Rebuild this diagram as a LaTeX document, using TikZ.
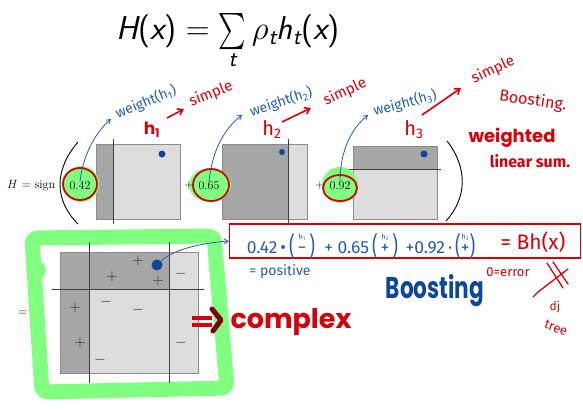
\RequirePackage{fix-cm}
\documentclass[tikz,border=0pt]{standalone}
\usepackage{fontspec}
\usepackage{amsmath}
\usetikzlibrary{arrows.meta}
\newfontfamily\hand{Fira Sans}
\newfontfamily\pop{Poppins}
\definecolor{hblue}{RGB}{35,95,170}
\definecolor{dblue}{RGB}{12,72,150}
\definecolor{hred}{RGB}{212,0,10}
\definecolor{dred}{RGB}{120,0,0}
\definecolor{hgreen}{RGB}{128,255,128}
\definecolor{dgray}{RGB}{166,166,166}
\definecolor{lgray}{RGB}{221,221,221}
\definecolor{bgray}{RGB}{140,140,140}
\newcommand\fsi[1]{\text{\sffamily\itshape #1}}
\newcommand\fsu[1]{\text{\sffamily #1}}
\newcommand\bigsum{\mathop{\vcenter{\hbox{\scalebox{1.05}[1.45]{$\sum$}}}}\limits}
\newcommand\hsgn[2]{\ooalign{\hidewidth\raisebox{14pt}{\fontsize{7.5}{8}\selectfont h\textsubscript{#1}}\hidewidth\cr #2\cr}}
\newcommand\bpl{\raisebox{-2pt}{\scalebox{1}[1.5]{(}}}
\newcommand\bpr{\raisebox{-2pt}{\scalebox{1}[1.5]{)}}}
\begin{document}
\begin{tikzpicture}[x=1pt,y=-1pt,
  hw/.style={text=hblue, inner sep=0pt},
  rw/.style={text=hred, inner sep=0pt},
  harrow/.style={draw=hblue, line width=0.8, -{Straight Barb[length=4pt,width=5pt]}},
  rarrow/.style={draw=hred, line width=1.6, -{Straight Barb[length=5pt,width=7pt]}},
  num/.style={font=\fontsize{12}{14}\selectfont, inner sep=0pt},
  blob/.style={fill=hgreen},
  ring/.style={draw=hred, line width=1.8},
  sep/.style={draw=black!75, line width=0.8},
  cellbox/.style={draw=bgray, line width=0.6},
  bdot/.style={circle, fill=dblue, inner sep=0pt},
  pmsign/.style={font=\fontsize{15}{16}\selectfont, inner sep=0pt, text=black!85},
]
\useasboundingbox[fill=white] (0,0) rectangle (583,410);

% title formula
\node[inner sep=0pt] (formula) at (228,41) {\fontsize{33}{38}\selectfont $\fsi{H}\fsu{(}\fsi{x}\fsu{)} = \bigsum_{\fsi{t}} \rho_{\fsi{t}}\fsi{h}_{\fsi{t}}\fsu{(}\fsi{x}\fsu{)}$};

% H = sign ( ... )
\node[num, anchor=west] (hsign) at (7,186) {$H$ = sign};
\draw[line width=0.9] (78,142) .. controls (54,170) and (54,200) .. (78,224);
\draw[line width=0.9] (447,141) .. controls (468,168) and (467,198) .. (446,221);

% box 1
\fill[lgray] (96,144) rectangle (180,219);
\fill[dgray] (96,144) rectangle (113,219);
\draw[cellbox] (96,144) rectangle (180,219);
\draw[sep] (113,139) -- (113,224);
\node[bdot, minimum size=7pt] (d1) at (162,154) {};
% box 2
\fill[lgray] (222,144) rectangle (307,219);
\fill[dgray] (222,144) rectangle (288,219);
\draw[cellbox] (222,144) rectangle (307,219);
\draw[sep] (288,139) -- (288,224);
\node[bdot, minimum size=6pt] (d2) at (282,152) {};
% box 3
\fill[lgray] (353,146) rectangle (437,219);
\fill[dgray] (353,146) rectangle (437,169);
\draw[cellbox] (353,146) rectangle (437,219);
\draw[sep] (347,169) -- (441,169);
\node[bdot, minimum size=7pt] (d3) at (424,154) {};

% weights
\fill[blob] (81,184) ellipse [x radius=18, y radius=18];
\node[num] (n1) at (80,186) {0.42};
\draw[ring] (80,184) ellipse [x radius=17, y radius=16];
\fill[blob] (210,185) ellipse [x radius=21, y radius=17];
\node[num] (p2) at (189,186) {+};
\node[num] (n2) at (209,186) {0.65};
\draw[ring] (211,185) ellipse [x radius=18, y radius=16];
\fill[blob] (340,185) ellipse [x radius=18, y radius=18];
\node[num] (p3) at (320,186) {+};
\node[num] (n3) at (340,186) {0.92};
\draw[ring] (340,188) ellipse [x radius=17, y radius=13];

% blue weight annotations
\node[hw, rotate=22, font=\hand\fontsize{14}{16}\selectfont] (w1) at (146,102) {weight(h\textsubscript{1})};
\node[hw, rotate=18, font=\hand\fontsize{14}{16}\selectfont] (w2) at (281,102) {weight(h\textsubscript{2})};
\node[hw, rotate=15, font=\hand\fontsize{14}{16}\selectfont] (w3) at (405,103) {weight(h\textsubscript{3})};
\coordinate (t1) at (111,119);
\coordinate (t2) at (242,115);
\coordinate (t3) at (368,115);
\draw[harrow] (n1.north) .. controls (83,155) and (95,133) .. (t1);
\draw[harrow] (n2.north) .. controls (212,150) and (225,128) .. (t2);
\draw[harrow] (n3.north) .. controls (340,150) and (352,128) .. (t3);

% red annotations
\node[rw, font=\pop\bfseries\fontsize{17}{18}\selectfont] (h1) at (152,130) {h\textsubscript{1}};
\node[rw, font=\hand\fontsize{20}{22}\selectfont] (h2) at (272,130) {h\textsubscript{2}};
\node[rw, font=\hand\fontsize{20}{22}\selectfont] (h3) at (414,130) {h\textsubscript{3}};
\node[rw, rotate=22, font=\hand\fontsize{15}{16}\selectfont] (s1) at (211,94) {simple};
\node[rw, rotate=25, font=\hand\fontsize{15}{16}\selectfont] (s2) at (345,92) {simple};
\node[rw, rotate=25, font=\hand\fontsize{15}{16}\selectfont] (s3) at (493,70) {simple};
\coordinate (r1a) at (167,118); \coordinate (r1b) at (184,109);
\coordinate (r2a) at (282,122); \coordinate (r2b) at (311,108);
\coordinate (r3a) at (422,115); \coordinate (r3b) at (461,88);
\draw[rarrow] (r1a) -- (r1b);
\draw[rarrow] (r2a) -- (r2b);
\draw[rarrow] (r3a) -- (r3b);
\node[rw, rotate=-8, font=\hand\fontsize{16}{18}\selectfont] (boostr) at (533,101) {Boosting.};
\node[rw, font=\pop\bfseries\fontsize{18}{20}\selectfont] (wtd) at (512,138) {weighted};
\node[rw, font=\hand\bfseries\fontsize{16}{18}\selectfont] (lin) at (530,161) {linear sum.};

% bottom
\node[num] (eq) at (23,313) {=};
\draw[hgreen, line width=15, line join=round, rounded corners=6] (32,238) -- (214,236) -- (227,388) -- (42,392) -- cycle;
\fill[hgreen] (37,270) circle [radius=9];
\fill[lgray] (60,252) rectangle (198,373);
\fill[dgray] (60,252) rectangle (169,289);
\fill[dgray] (60,252) rectangle (89,373);
\draw[cellbox] (60,252) rectangle (198,373);
\draw[sep] (89,242) -- (89,383);
\draw[sep] (169,242) -- (169,383);
\draw[sep] (52,289) -- (204,289);
\node[pmsign] (a1) at (138,261) {$+$};
\node[pmsign] (a2) at (112,277) {$+$};
\node[pmsign] (a3) at (158,281) {$+$};
\node[pmsign] (a4) at (75,308) {$+$};
\node[pmsign] (a5) at (80,343) {$+$};
\node[pmsign] (b1) at (181,274) {$-$};
\node[pmsign] (b2) at (106,302) {$-$};
\node[pmsign] (b3) at (138,310) {$-$};
\node[pmsign] (b4) at (181,343) {$-$};
\node[pmsign] (b5) at (100,360) {$-$};
\node[bdot, minimum size=11pt] (bd) at (157,265) {};

% red box with weighted sum
\node[draw=hred, line width=1.3, minimum width=351pt, minimum height=34pt, inner sep=0pt] (rb) at (405,241) {};
\draw[harrow] (bd) .. controls (175,248) and (205,243) .. (rb.west);
\node[hw, font=\hand\fontsize{17.5}{19}\selectfont] (sumtxt) at (361,246) {0.42\,•\,\bpl\,\hsgn{1}{−}\,\bpr\ \ + 0.65\,\bpl\,\hsgn{2}{+}\,\bpr\ \,+0.92\,·\,\bpl\hsgn{3}{+}\bpr};
\node[rw, font=\hand\fontsize{21}{24}\selectfont] (bh) at (533,242) {= Bh(x)};
\node[hw, font=\hand\fontsize{14}{16}\selectfont] (pos) at (280,272) {= positive};
\node[text=dblue, inner sep=0pt] (boost) at (435,291) {\scalebox{0.72}[1]{\pop\bfseries\fontsize{30}{32}\selectfont Boosting}};

% complex
\draw[hred, line width=4] (192,318) -- (212,318);
\draw[hred, line width=4] (192,325) -- (212,325);
\draw[dred, line width=5, line cap=round, line join=round] (212,309) -- (221,320) -- (213,331);
\node[text=hred, inner sep=0pt] (cx) at (291,322) {\pop\bfseries\fontsize{27}{30}\selectfont complex};

% error / tree
\node[rw, font=\hand\fontsize{13}{15}\selectfont] (err) at (508,272) {0=error};
\draw[hred, line width=1.3, line cap=round] (533,297) -- (538,292) -- (568,269);
\draw[hred, line width=1.3, line cap=round] (547,263) -- (563,288);
\draw[hred, line width=1.3, line cap=round] (553,262) -- (568,284);
\node[rw, font=\hand\fontsize{12}{14}\selectfont] (dj) at (555,307) {dj};
\node[rw, rotate=-20, font=\hand\fontsize{13}{15}\selectfont] (tr) at (556,328) {tree};
\end{tikzpicture}
\end{document}
